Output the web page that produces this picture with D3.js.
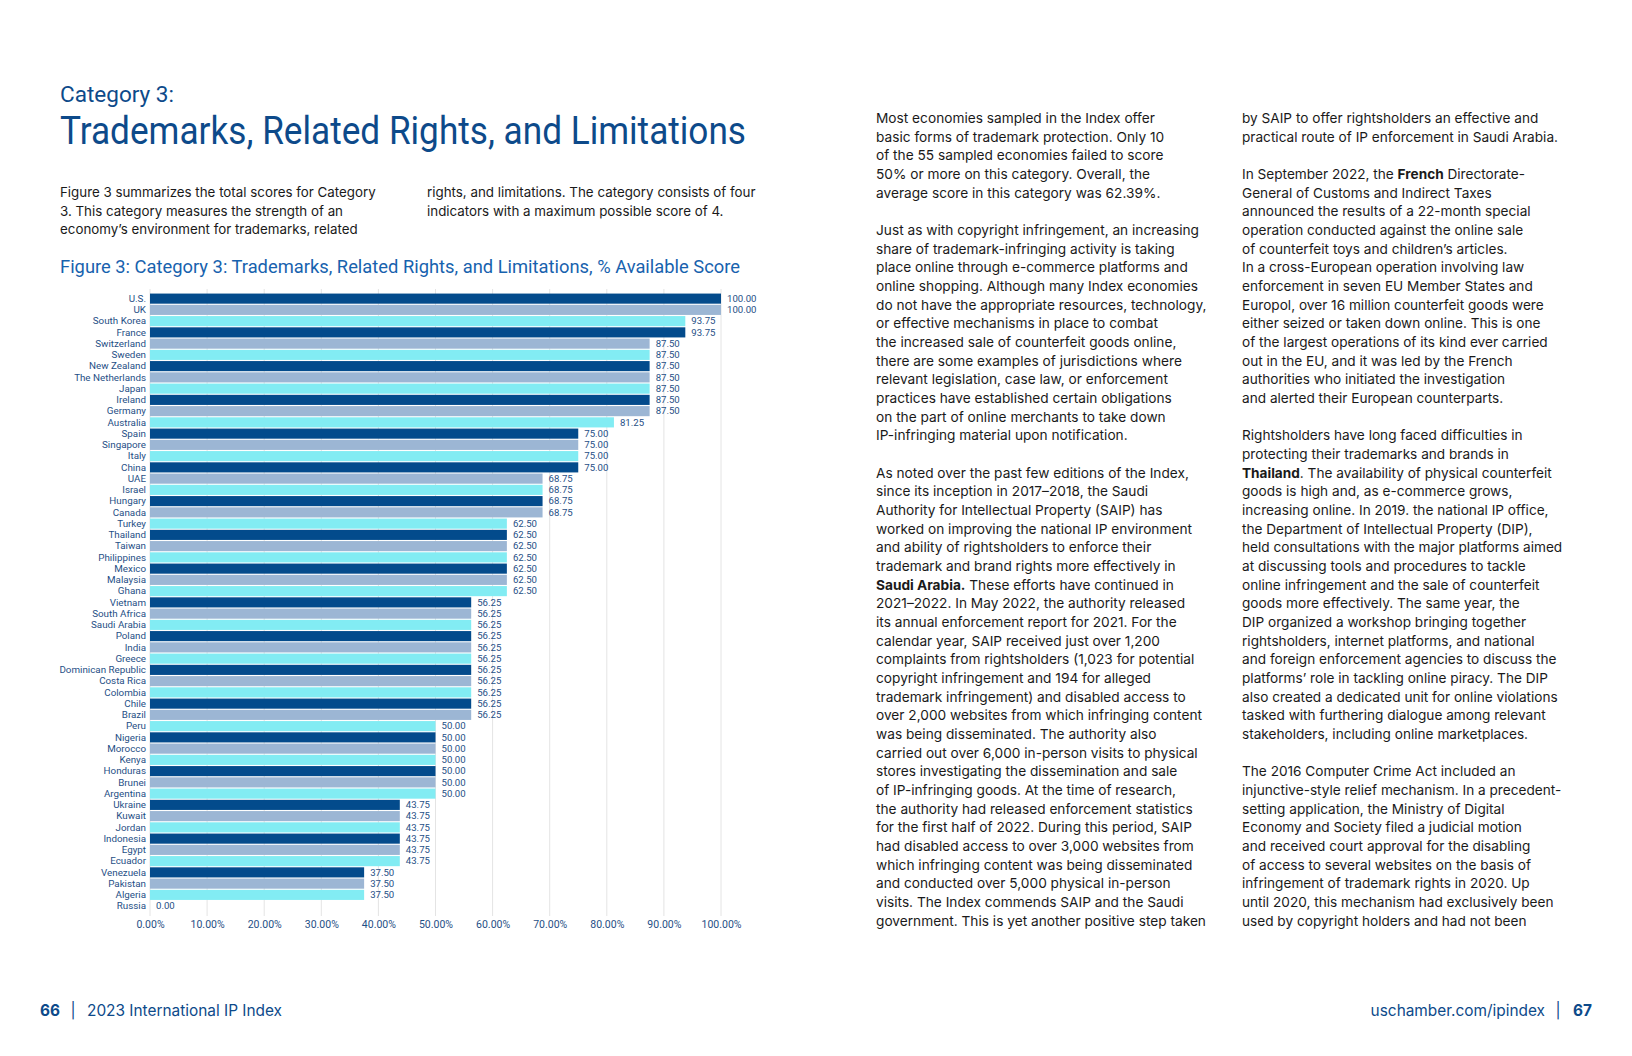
<!DOCTYPE html>
<html><head><meta charset="utf-8">
<script src="https://cdn.jsdelivr.net/npm/d3@7"></script>
<style>html,body{margin:0;padding:0;background:#fff;}svg{display:block}</style>
</head><body>
<svg id="page" width="1632" height="1056"></svg>
<script>
const countries = ["U.S.","UK","South Korea","France","Switzerland","Sweden","New Zealand","The Netherlands","Japan","Ireland","Germany","Australia","Spain","Singapore","Italy","China","UAE","Israel","Hungary","Canada","Turkey","Thailand","Taiwan","Philippines","Mexico","Malaysia","Ghana","Vietnam","South Africa","Saudi Arabia","Poland","India","Greece","Dominican Republic","Costa Rica","Colombia","Chile","Brazil","Peru","Nigeria","Morocco","Kenya","Honduras","Brunei","Argentina","Ukraine","Kuwait","Jordan","Indonesia","Egypt","Ecuador","Venezuela","Pakistan","Algeria","Russia"];
const values = [100,100,93.75,93.75,87.5,87.5,87.5,87.5,87.5,87.5,87.5,81.25,75,75,75,75,68.75,68.75,68.75,68.75,62.5,62.5,62.5,62.5,62.5,62.5,62.5,56.25,56.25,56.25,56.25,56.25,56.25,56.25,56.25,56.25,56.25,56.25,50,50,50,50,50,50,50,43.75,43.75,43.75,43.75,43.75,43.75,37.5,37.5,37.5,0];
const xTickValues = [0,10,20,30,40,50,60,70,80,90,100];
const barPalette = ["#034b8c","#9cb6d4","#82ecf3"];

const kicker = "Category 3:";
const pageTitle = "Trademarks, Related Rights, and Limitations";
const figureTitle = "Figure 3: Category 3: Trademarks, Related Rights, and Limitations, % Available Score";
const introLeft = ["Figure 3 summarizes the total scores for Category","3. This category measures the strength of an","economy’s environment for trademarks, related"];
const introRight = ["rights, and limitations. The category consists of four","indicators with a maximum possible score of 4."];
const col1Lines = [
"Most economies sampled in the Index offer",
"basic forms of trademark protection. Only 10",
"of the 55 sampled economies failed to score",
"50% or more on this category. Overall, the",
"average score in this category was 62.39%.",
"",
"Just as with copyright infringement, an increasing",
"share of trademark-infringing activity is taking",
"place online through e-commerce platforms and",
"online shopping. Although many Index economies",
"do not have the appropriate resources, technology,",
"or effective mechanisms in place to combat",
"the increased sale of counterfeit goods online,",
"there are some examples of jurisdictions where",
"relevant legislation, case law, or enforcement",
"practices have established certain obligations",
"on the part of online merchants to take down",
"IP-infringing material upon notification.",
"",
"As noted over the past few editions of the Index,",
"since its inception in 2017–2018, the Saudi",
"Authority for Intellectual Property (SAIP) has",
"worked on improving the national IP environment",
"and ability of rightsholders to enforce their",
"trademark and brand rights more effectively in",
"**Saudi Arabia.** These efforts have continued in",
"2021–2022. In May 2022, the authority released",
"its annual enforcement report for 2021. For the",
"calendar year, SAIP received just over 1,200",
"complaints from rightsholders (1,023 for potential",
"copyright infringement and 194 for alleged",
"trademark infringement) and disabled access to",
"over 2,000 websites from which infringing content",
"was being disseminated. The authority also",
"carried out over 6,000 in-person visits to physical",
"stores investigating the dissemination and sale",
"of IP-infringing goods. At the time of research,",
"the authority had released enforcement statistics",
"for the first half of 2022. During this period, SAIP",
"had disabled access to over 3,000 websites from",
"which infringing content was being disseminated",
"and conducted over 5,000 physical in-person",
"visits. The Index commends SAIP and the Saudi",
"government. This is yet another positive step taken"];
const col2Lines = [
"by SAIP to offer rightsholders an effective and",
"practical route of IP enforcement in Saudi Arabia.",
"",
"In September 2022, the **French** Directorate-",
"General of Customs and Indirect Taxes",
"announced the results of a 22-month special",
"operation conducted against the online sale",
"of counterfeit toys and children’s articles.",
"In a cross-European operation involving law",
"enforcement in seven EU Member States and",
"Europol, over 16 million counterfeit goods were",
"either seized or taken down online. This is one",
"of the largest operations of its kind ever carried",
"out in the EU, and it was led by the French",
"authorities who initiated the investigation",
"and alerted their European counterparts.",
"",
"Rightsholders have long faced difficulties in",
"protecting their trademarks and brands in",
"**Thailand**. The availability of physical counterfeit",
"goods is high and, as e-commerce grows,",
"increasing online. In 2019. the national IP office,",
"the Department of Intellectual Property (DIP),",
"held consultations with the major platforms aimed",
"at discussing tools and procedures to tackle",
"online infringement and the sale of counterfeit",
"goods more effectively. The same year, the",
"DIP organized a workshop bringing together",
"rightsholders, internet platforms, and national",
"and foreign enforcement agencies to discuss the",
"platforms’ role in tackling online piracy. The DIP",
"also created a dedicated unit for online violations",
"tasked with furthering dialogue among relevant",
"stakeholders, including online marketplaces.",
"",
"The 2016 Computer Crime Act included an",
"injunctive-style relief mechanism. In a precedent-",
"setting application, the Ministry of Digital",
"Economy and Society filed a judicial motion",
"and received court approval for the disabling",
"of access to several websites on the basis of",
"infringement of trademark rights in 2020. Up",
"until 2020, this mechanism had exclusively been",
"used by copyright holders and had not been"];
const footerPage1 = "66";
const footerBook = "2023 International IP Index";
const footerSite = "uschamber.com/ipindex";
const footerPage2 = "67";

const svg = d3.select("#page");
svg.append("rect").attr("width",1632).attr("height",1056).attr("fill","#fff");

const BODY = "Inter, 'Noto Sans', sans-serif";
const HEAD = "Roboto, 'Liberation Sans', sans-serif";
const TITLE_BLUE = "#0d4a8a";
const FIG_BLUE = "#1762ae";
const LABEL_BLUE = "#1f4f86";

function textBlock(lines, o) {
  const g = svg.append("g").attr("font-family", o.family).attr("fill", o.fill)
    .attr("font-size", o.size);
  const t = g.selectAll("text").data(lines).join("text")
    .attr("x", o.x).attr("y", (d, i) => o.y + i * o.lh);
  t.each(function(d) {
    const sel = d3.select(this);
    d.split(/(\*\*[^*]+\*\*)/).filter(s => s.length).forEach(seg => {
      const b = seg.startsWith("**");
      sel.append("tspan").attr("font-weight", b ? 700 : null).text(b ? seg.slice(2, -2) : seg);
    });
  });
  if (o.refIndex != null) {
    const w = t.nodes()[o.refIndex].getComputedTextLength();
    g.attr("font-size", o.size * o.targetW / w);
  }
  return g;
}

// Titles
svg.append("text").attr("x",60).attr("y",102).attr("font-family",HEAD).attr("font-size",22)
  .attr("fill",TITLE_BLUE).attr("textLength",114).attr("lengthAdjust","spacingAndGlyphs").text(kicker);
svg.append("text").attr("x",60).attr("y",143.5).attr("font-family",HEAD).attr("font-size",39)
  .attr("fill",TITLE_BLUE).attr("textLength",686).attr("lengthAdjust","spacingAndGlyphs").text(pageTitle);

textBlock(introLeft, {x:60, y:197, lh:18.6, size:14, family:BODY, fill:"#1a1a1a", refIndex:0, targetW:316});
textBlock(introRight, {x:427, y:197, lh:18.6, size:14, family:BODY, fill:"#1a1a1a", refIndex:0, targetW:329});

svg.append("text").attr("x",60).attr("y",272.5).attr("font-family",HEAD).attr("font-size",18)
  .attr("fill",FIG_BLUE).attr("textLength",680).attr("lengthAdjust","spacingAndGlyphs").text(figureTitle);

// Chart
const x = d3.scaleLinear().domain([0,100]).range([150,721]);
const y = d3.scaleBand().domain(countries).range([293,911.75]).paddingInner(0.1).paddingOuter(0.05);
const chart = svg.append("g");

chart.append("g").selectAll("line").data(xTickValues).join("line")
  .attr("x1", d => x(d)).attr("x2", d => x(d)).attr("y1", 289).attr("y2", 916)
  .attr("stroke", "#e4e4e4").attr("stroke-width", 1);

chart.append("g").selectAll("rect").data(countries).join("rect")
  .attr("x", x(0)).attr("y", d => y(d)).attr("height", y.bandwidth())
  .attr("width", (d, i) => x(values[i]) - x(0))
  .attr("fill", (d, i) => barPalette[i % 3]);

chart.append("g").selectAll("text").data(countries).join("text")
  .attr("x", (d, i) => x(values[i]) + 6).attr("y", d => y(d) + y.bandwidth() / 2)
  .attr("dy", "0.35em").attr("font-family", HEAD).attr("font-size", 9.6).attr("fill", LABEL_BLUE)
  .text((d, i) => values[i].toFixed(2));

const yAxis = chart.append("g").attr("transform", `translate(${x(0)},0)`)
  .call(d3.axisLeft(y).tickSize(0).tickPadding(4));
yAxis.select(".domain").remove();
yAxis.selectAll("text").attr("font-family", HEAD).attr("font-size", 9.8).attr("fill", LABEL_BLUE);

const xAxis = chart.append("g").attr("transform", "translate(0,916)")
  .call(d3.axisBottom(x).tickValues(xTickValues).tickSize(0).tickPadding(5).tickFormat(d => d.toFixed(2) + "%"));
xAxis.select(".domain").remove();
xAxis.selectAll("text").attr("font-family", HEAD).attr("font-size", 10.5).attr("fill", LABEL_BLUE);

// Body columns
textBlock(col1Lines, {x:876, y:123, lh:18.67, size:14, family:BODY, fill:"#1a1a1a", refIndex:0, targetW:279});
textBlock(col2Lines, {x:1242, y:123, lh:18.67, size:14, family:BODY, fill:"#1a1a1a", refIndex:7, targetW:266});

// Footer
const foot = svg.append("g").attr("font-family", BODY).attr("font-size", 15.4).attr("fill", TITLE_BLUE);
foot.append("text").attr("x", 40).attr("y", 1016).attr("font-weight", 700).text(footerPage1);
foot.append("text").attr("x", 73).attr("y", 1016).attr("text-anchor", "middle").text("|");
foot.append("text").attr("x", 87).attr("y", 1016).attr("textLength", 195).attr("lengthAdjust", "spacingAndGlyphs").text(footerBook);
foot.append("text").attr("x", 1545).attr("y", 1016).attr("text-anchor", "end").text(footerSite);
foot.append("text").attr("x", 1558).attr("y", 1016).attr("text-anchor", "middle").text("|");
foot.append("text").attr("x", 1592).attr("y", 1016).attr("text-anchor", "end").attr("font-weight", 700).text(footerPage2);
</script>
</body></html>
